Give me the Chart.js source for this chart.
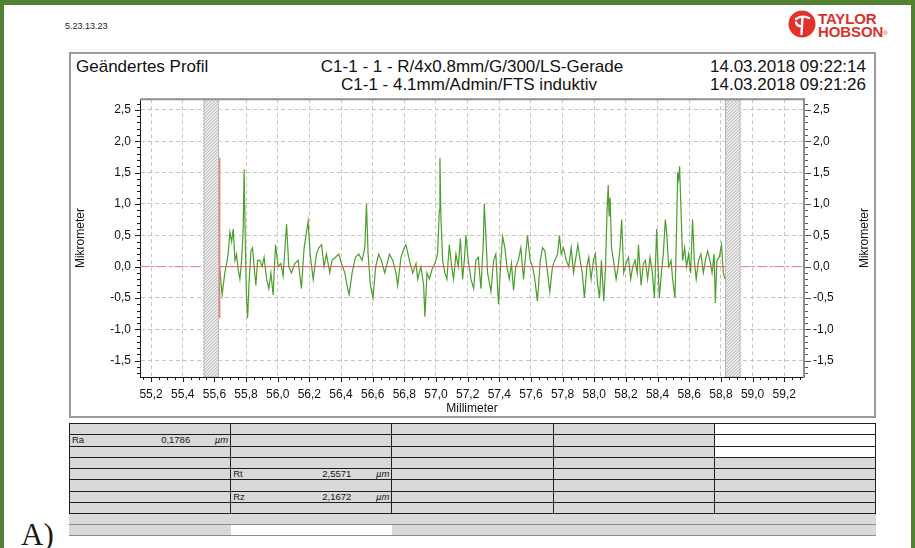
<!DOCTYPE html>
<html>
<head>
<meta charset="utf-8">
<title>Geändertes Profil</title>
<script src="https://cdn.jsdelivr.net/npm/chart.js@4.4.1/dist/chart.umd.min.js"></script>
<style>
  html, body { margin: 0; padding: 0; background: #fff; }
  body {
    width: 915px; height: 548px; position: relative; overflow: hidden;
    font-family: "Liberation Sans", Arial, Helvetica, sans-serif; color: #1a1a1a;
  }
  .frame {
    position: absolute; left: 0; top: 0; width: 915px; height: 560px; box-sizing: border-box;
    border: solid #548235; border-width: 5px 4px 0 4px;
  }
  .stamp { position: absolute; left: 65px; top: 22px; font-size: 9px; line-height: 9px; }
  .logo-t {
    position: absolute; left: 818px; top: 12px; font-size: 15px; line-height: 13px;
    font-weight: bold; color: #d8332a; letter-spacing: -0.1px;
  }
  .logo-t sup { font-size: 6px; font-weight: normal; vertical-align: 2px; }
  .box {
    position: absolute; left: 69px; top: 52px; width: 807px; height: 366px;
    box-sizing: border-box; border: 2px solid #9b9b9b;
  }
  .hdr { position: absolute; font-size: 17px; line-height: 17px; white-space: nowrap; color: #111; }
  #profile { position: absolute; left: 70px; top: 83px; }
  #params {
    position: absolute; left: 69px; top: 423px; width: 807px; height: 91px;
    display: grid; grid-template-columns: repeat(5, 1fr); grid-template-rows: repeat(8, 1fr);
    box-sizing: border-box; border-left: 1.5px solid #1e1e1e; border-top: 1.5px solid #1e1e1e;
  }
  .cell {
    position: relative; background: #d9d9d9; font-size: 9.5px; line-height: 10px;
    border-right: 1.5px solid #1e1e1e; border-bottom: 1.5px solid #1e1e1e;
  }
  .cell.blank { background: #fff; }
  .pn { position: absolute; left: 2px; top: 0; }
  .pv { position: absolute; right: 40px; top: 0; }
  .pu { position: absolute; right: 2px; top: 0; font-style: italic; }
  .extra {
    position: absolute; left: 69px; width: 807px; height: 10px;
    background: #d9d9d9; border-bottom: 1.5px solid #8a8a8a;
  }
  .extra .gap { position: absolute; left: 162px; width: 161px; top: 0; bottom: 0; background: #fff; }
  .tag { position: absolute; left: 21px; top: 519px; font-family: "Liberation Serif", "Times New Roman", serif; font-size: 31px; line-height: 31px; }
</style>
</head>
<body>
<div class="frame"></div>
<div class="stamp">5.23.13.23</div>

<svg width="28" height="28" viewBox="0 0 28 28" style="position:absolute;left:788px;top:10px">
  <circle cx="14" cy="14" r="13.5" fill="#e0322a"/>
  <path d="M8 9 C11 6.5, 16 6, 21 8 M14.5 7 L13.5 24 M13.8 16 C11 16.5, 8.5 15, 8 12.5" stroke="#fff" stroke-width="2.4" fill="none" stroke-linecap="round"/>
</svg>
<div class="logo-t">TAYLOR<br>HOBSON<sup>®</sup></div>

<div class="box"></div>
<div class="hdr" style="left:76px; top:58px;">Geändertes Profil</div>
<div class="hdr" style="left:272px; top:58px; width:400px; text-align:center;">C1-1 - 1 - R/4x0.8mm/G/300/LS-Gerade</div>
<div class="hdr" style="left:269px; top:76px; width:400px; text-align:center;">C1-1 - 4.1mm/Admin/FTS induktiv</div>
<div class="hdr" style="left:566px; top:58px; width:300px; text-align:right;">14.03.2018 09:22:14</div>
<div class="hdr" style="left:566px; top:76px; width:300px; text-align:right;">14.03.2018 09:21:26</div>

<canvas id="profile" width="805" height="335"></canvas>

<div id="params"></div>
<div class="extra" style="top:514px;"></div>
<div class="extra" style="top:525px;"><div class="gap"></div></div>
<div class="tag">A)</div>

<script>
// axis window (mm / µm)
const xRange = [55.13, 59.325];
const yRange = [-1.76, 2.67];

// filtered-out end zones of the trace (mm)
const hatchZones = [[55.53, 55.63], [58.826, 58.925]];

// roughness profile: position along trace (mm) and height (µm)
const profileX = [
  55.633, 55.649, 55.666, 55.677, 55.687, 55.698, 55.709, 55.719, 55.730, 55.740,
  55.750, 55.761, 55.772, 55.782, 55.788, 55.795, 55.803, 55.810, 55.818, 55.831,
  55.841, 55.851, 55.862, 55.873, 55.887, 55.902, 55.914, 55.930, 55.944, 55.957,
  55.971, 55.986, 56.003, 56.020, 56.034, 56.056, 56.070, 56.087, 56.108, 56.129,
  56.150, 56.167, 56.192, 56.205, 56.224, 56.245, 56.260, 56.277, 56.293, 56.308,
  56.329, 56.343, 56.365, 56.386, 56.403, 56.424, 56.438, 56.451, 56.470, 56.491,
  56.512, 56.533, 56.550, 56.561, 56.571, 56.586, 56.602, 56.619, 56.638, 56.655,
  56.676, 56.697,
  56.706, 56.727, 56.747, 56.758, 56.779, 56.800, 56.810, 56.832, 56.853, 56.874,
  56.884, 56.905, 56.922, 56.930, 56.943, 56.958, 56.974, 56.993, 57.010, 57.021,
  57.025, 57.031, 57.042, 57.056, 57.069, 57.084, 57.099, 57.111, 57.126, 57.141,
  57.154, 57.168, 57.179, 57.189, 57.204, 57.221, 57.238, 57.252, 57.267, 57.284,
  57.299, 57.305, 57.313, 57.326, 57.347, 57.364, 57.378, 57.395, 57.410, 57.421,
  57.435, 57.448, 57.463, 57.477, 57.490, 57.504, 57.520, 57.536, 57.553, 57.567,
  57.578, 57.595, 57.610, 57.624, 57.641, 57.659, 57.673, 57.688, 57.705, 57.719,
  57.736, 57.751, 57.768,
  57.780, 57.791, 57.806, 57.823, 57.839, 57.854, 57.869, 57.881, 57.896, 57.911,
  57.924, 57.938, 57.953, 57.965, 57.980, 57.995, 58.007, 58.022, 58.033, 58.045,
  58.060, 58.071, 58.081, 58.088, 58.094, 58.100, 58.109, 58.121, 58.138, 58.151,
  58.163, 58.173, 58.186, 58.201, 58.216, 58.230, 58.243, 58.258, 58.271, 58.279,
  58.296, 58.310, 58.323, 58.337, 58.352, 58.367, 58.380, 58.394, 58.403, 58.411,
  58.424, 58.436, 58.449, 58.457, 58.470, 58.485, 58.495, 58.510, 58.520, 58.527,
  58.533, 58.539, 58.548, 58.558, 58.571, 58.583, 58.596, 58.609, 58.621, 58.632,
  58.644, 58.659, 58.674, 58.689, 58.702, 58.716, 58.731, 58.744, 58.757, 58.765,
  58.775, 58.790, 58.804, 58.815, 58.826
];
const profileY = [
  0.0, -0.45, -0.1, 0.05, 0.2, 0.55, 0.4, 0.6, 0.1, 0.2,
  -0.05, -0.2, 0.1, 0.6, 1.55, 0.4, -0.5, -0.82, -0.3, 0.25,
  0.3, 0.0, -0.3, 0.1, 0.1, 0.0, 0.15, -0.2, -0.35, -0.1,
  -0.45, 0.35, 0.0, 0.05, -0.15, 0.68, 0.0, -0.1, 0.05, 0.1,
  -0.35, 0.3, 0.72, 0.2, -0.2, 0.2, 0.3, 0.35, 0.0, 0.2,
  -0.1, 0.1, 0.15, 0.2, 0.05, -0.1, -0.3, -0.45, -0.1, 0.15,
  0.2, 0.1, 0.3, 1.0, 0.2, -0.3, -0.5, 0.0, 0.2, 0.1,
  -0.1, 0.1,
  0.2, 0.1, -0.1, -0.3, 0.15, 0.3, 0.35, 0.1, -0.1, 0.05,
  -0.2, 0.0, -0.3, -0.8, -0.1, -0.2, -0.05, 0.05, 0.2, 0.9,
  1.737, 0.8, 0.1, -0.1, -0.2, 0.35, 0.0, -0.2, 0.2, 0.0,
  0.45, -0.2, 0.1, 0.5, 0.1, -0.2, -0.35, 0.1, 0.15, -0.35,
  0.4, 1.0, 0.6, -0.1, -0.4, 0.1, 0.2, -0.6, 0.1, 0.48,
  0.3, 0.0, -0.2, 0.05, -0.38, 0.0, 0.1, 0.3, -0.2, 0.2,
  0.5, 0.1, 0.0, -0.2, -0.55, 0.1, 0.3, 0.25, -0.1, -0.4,
  0.0, 0.1, 0.2,
  0.5, 0.2, 0.3, 0.1, 0.0, 0.3, -0.1, 0.1, 0.35, 0.1,
  -0.1, -0.5, 0.0, 0.15, -0.2, 0.1, 0.2, -0.3, -0.5, 0.1,
  -0.55, 0.0, 0.9, 1.3, 0.8, 1.1, 0.3, 0.1, -0.2, 0.0,
  0.3, 0.75, -0.1, 0.05, 0.15, -0.2, 0.0, 0.1, -0.1, 0.35,
  -0.3, 0.05, 0.1, -0.2, 0.15, -0.1, -0.5, 0.6, 0.0, -0.5,
  -0.1, 0.2, 0.75, 0.55, 0.0, 0.1, -0.2, -0.5, 0.6, 1.5,
  1.4, 1.6, 0.9, 0.1, 0.3, 0.0, 0.2, -0.1, 0.75, 0.1,
  -0.2, 0.1, 0.2, -0.1, 0.1, 0.25, 0.1, -0.1, 0.2, -0.58,
  0.1, 0.15, 0.35, -0.1, -0.2
];

// roughness parameters shown in the table
const paramNames = ['Ra', 'Rt', 'Rz'];
const paramValues = [0.1786, 2.5571, 2.1672];
const paramUnit = 'µm';

const fmt = (v, d) => (Math.abs(v) < 1e-9 ? 0 : v).toFixed(d).replace('.', ',');

// ---- parameter table ----
const paramSlots = { Ra: [0, 1], Rt: [1, 4], Rz: [1, 6] }; // [column, row]
const table = document.getElementById('params');
for (let r = 0; r < 8; r++) {
  for (let c = 0; c < 5; c++) {
    const cell = document.createElement('div');
    cell.className = 'cell' + (c === 4 && r < 3 ? ' blank' : '');
    table.appendChild(cell);
  }
}
paramNames.forEach((name, i) => {
  const [c, r] = paramSlots[name];
  const cell = table.children[r * 5 + c];
  cell.innerHTML = '<span class="pn">' + name + '</span><span class="pv">' +
    fmt(paramValues[i], 4) + '</span><span class="pu">' + paramUnit + '</span>';
});

// ---- chart ----
Chart.defaults.font.family = '"Liberation Sans", Arial, Helvetica, sans-serif';
Chart.defaults.font.size = 12;
Chart.defaults.color = '#111';

const rt = paramValues[paramNames.indexOf('Rt')];
const valley = Math.min(...profileY);
const traceStart = profileX[0];
const traceEnd = profileX[profileX.length - 1];
const yAxisTitle = 'Mikrometer';

// hatched end zones, plot frame top line, minor ticks, right axis title
const profileFrame = {
  id: 'profileFrame',
  beforeDatasetsDraw(chart) {
    const { ctx, chartArea: a, scales: { x } } = chart;
    const h = a.bottom - a.top;
    hatchZones.forEach(([from, to]) => {
      const x0 = x.getPixelForValue(from);
      const x1 = x.getPixelForValue(to);
      ctx.save();
      ctx.beginPath();
      ctx.rect(x0, a.top, x1 - x0, h);
      ctx.clip();
      ctx.fillStyle = '#efefef';
      ctx.fillRect(x0, a.top, x1 - x0, h);
      ctx.strokeStyle = '#a0a0a0';
      ctx.lineWidth = 0.8;
      ctx.beginPath();
      for (let s = x0 - h; s < x1; s += 3.2) {
        ctx.moveTo(s, a.bottom);
        ctx.lineTo(s + h, a.top);
      }
      ctx.stroke();
      ctx.strokeStyle = '#b5b5b5';
      ctx.lineWidth = 1;
      ctx.strokeRect(x0 + 0.5, a.top, x1 - x0 - 1, h);
      ctx.restore();
    });
  },
  afterDraw(chart) {
    const { ctx, chartArea: a, scales: { x, y, y2 } } = chart;
    ctx.save();
    ctx.strokeStyle = '#8f8f8f';
    ctx.lineWidth = 2;
    ctx.beginPath();
    ctx.moveTo(a.left, a.top);
    ctx.lineTo(a.right + 1, a.top);
    ctx.stroke();

    ctx.lineWidth = 1;
    ctx.strokeStyle = '#1a1a1a';
    ctx.beginPath();
    for (let k = Math.ceil(x.min / 0.05); k * 0.05 <= x.max; k++) {
      const px = Math.round(x.getPixelForValue(k * 0.05)) + 0.5;
      const len = k % 4 === 0 ? 5 : 3;
      ctx.moveTo(px, a.bottom);
      ctx.lineTo(px, a.bottom + len);
    }
    for (let k = Math.ceil(y.min / 0.1); k * 0.1 <= y.max; k++) {
      const py = Math.round(y.getPixelForValue(k * 0.1)) + 0.5;
      const len = k % 5 === 0 ? 5 : 3;
      ctx.moveTo(a.left - len, py);
      ctx.lineTo(a.left, py);
    }
    ctx.stroke();
    ctx.strokeStyle = '#555';
    ctx.beginPath();
    for (let k = Math.ceil(y.min / 0.1); k * 0.1 <= y.max; k++) {
      const py = Math.round(y.getPixelForValue(k * 0.1)) + 0.5;
      const len = k % 5 === 0 ? 6 : 3;
      ctx.moveTo(a.right + 1, py);
      ctx.lineTo(a.right + 1 + len, py);
    }
    ctx.stroke();

    // right-hand title reads bottom to top like the left one
    ctx.translate(y2.right - 10, (a.top + a.bottom) / 2);
    ctx.rotate(-Math.PI / 2);
    ctx.fillStyle = '#111';
    ctx.font = '12px "Liberation Sans", Arial, Helvetica, sans-serif';
    ctx.textAlign = 'center';
    ctx.textBaseline = 'middle';
    ctx.fillText(yAxisTitle, 0, 0);
    ctx.restore();
  }
};

const yTicks = { stepSize: 0.5, includeBounds: false, padding: 9, callback: v => fmt(v, 1) };

new Chart(document.getElementById('profile'), {
  type: 'scatter',
  data: {
    datasets: [
      {
        label: 'Profil',
        data: profileX.map((v, i) => ({ x: v, y: profileY[i] })),
        borderColor: '#4a9f2c',
        borderWidth: 1.2,
        order: 2
      },
      {
        label: 'Mittellinie',
        data: [{ x: traceStart, y: 0 }, { x: traceEnd, y: 0 }],
        borderColor: '#ef5b5b',
        borderWidth: 1,
        order: 1
      },
      {
        label: 'Mittellinie links',
        data: [{ x: xRange[0], y: 0 }, { x: hatchZones[0][0], y: 0 }],
        borderColor: '#f07a7a',
        borderWidth: 1,
        borderDash: [9, 3, 2, 3],
        order: 1
      },
      {
        label: 'Mittellinie rechts',
        data: [{ x: hatchZones[1][1], y: 0 }, { x: xRange[1], y: 0 }],
        borderColor: '#f07a7a',
        borderWidth: 1,
        borderDash: [9, 3, 2, 3],
        order: 1
      },
      {
        label: 'Rt',
        data: [{ x: traceStart, y: valley }, { x: traceStart, y: valley + rt }],
        borderColor: '#ef7d7d',
        borderWidth: 1.5,
        order: 0
      }
    ]
  },
  options: {
    responsive: false,
    animation: false,
    devicePixelRatio: 1,
    showLine: true,
    layout: { padding: { top: 6, left: 0, right: 0, bottom: 0 } },
    elements: { point: { radius: 0, hoverRadius: 0 }, line: { tension: 0 } },
    plugins: { legend: { display: false }, tooltip: { enabled: false } },
    scales: {
      x: {
        type: 'linear',
        min: xRange[0],
        max: xRange[1],
        afterFit: s => { s.height = 41; },
        ticks: { stepSize: 0.2, includeBounds: false, padding: 10, maxRotation: 0, autoSkip: false, callback: v => fmt(v, 1) },
        grid: { color: '#c6c6c6', drawTicks: false },
        border: { color: '#1a1a1a', width: 1, dash: [4, 3] },
        title: { display: true, text: 'Millimeter', padding: { top: 0, bottom: 2 } }
      },
      y: {
        position: 'left',
        min: yRange[0],
        max: yRange[1],
        afterFit: s => { s.width = 70; },
        ticks: yTicks,
        grid: { color: '#c6c6c6', drawTicks: false },
        border: { color: '#1a1a1a', width: 1, dash: [4, 3] },
        title: { display: true, text: yAxisTitle, padding: { top: 3, bottom: 0 } }
      },
      y2: {
        position: 'right',
        min: yRange[0],
        max: yRange[1],
        afterFit: s => { s.width = 71; },
        ticks: yTicks,
        grid: { drawOnChartArea: false, drawTicks: false },
        border: { color: '#8f8f8f', width: 2 }
      }
    }
  },
  plugins: [profileFrame]
});
</script>
</body>
</html>
